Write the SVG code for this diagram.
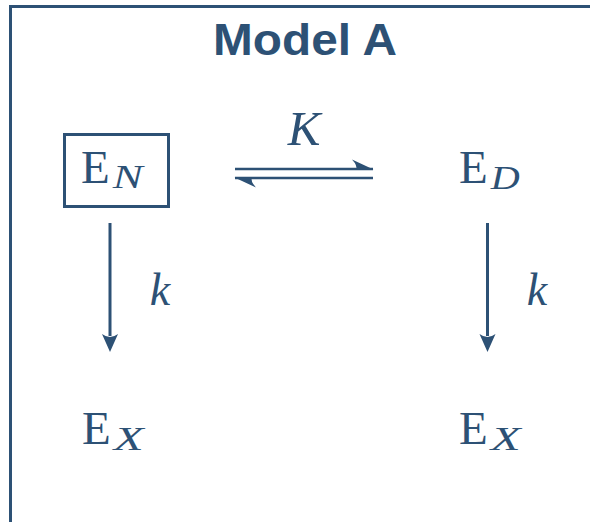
<svg xmlns="http://www.w3.org/2000/svg" width="590" height="522" viewBox="0 0 590 522">
<style>
.c{fill:#2d5175}
.ln{stroke:#2d5175;fill:none}
.serif{font-family:"Liberation Serif","DejaVu Serif",serif;fill:#2d5175}
.it{font-style:italic}
.big{font-size:47px}
.sub{font-size:34px}
.title{font-family:"Liberation Sans",Arial,sans-serif;font-weight:bold;font-size:45px;fill:#2d5175}
</style>
<rect width="590" height="522" fill="#fff"/>
<g id="frame">
<path d="M10.5,522 V6.5 H590" class="ln" stroke-width="3"/>
</g>
<g id="title">
<text x="305" y="55" text-anchor="middle" class="title" textLength="184" lengthAdjust="spacingAndGlyphs">Model A</text>
</g>
<g id="connectors">
<g id="equilibrium">
<path d="M235,169 H373" class="ln" stroke-width="2.6"/>
<path d="M373.5,169.5 L352,159.5 Q358,166 356,170 Z" class="c"/>
<path d="M235,178 H373" class="ln" stroke-width="2.6"/>
<path d="M234.5,177.5 L256,187.5 Q250,181 252,177 Z" class="c"/>
<text x="304" y="145" text-anchor="middle" class="serif it" font-size="49">K</text>
</g>
<g id="decay-left">
<path d="M110,223 V336" class="ln" stroke-width="3"/>
<path d="M110,352 L102,334 Q110,340 118,334 Z" class="c"/>
<text x="160" y="305" text-anchor="middle" class="serif it" font-size="46">k</text>
</g>
<g id="decay-right">
<path d="M487.5,223 V336" class="ln" stroke-width="3"/>
<path d="M487.5,352 L479.5,334 Q487.5,340 495.5,334 Z" class="c"/>
<text x="537" y="305" text-anchor="middle" class="serif it" font-size="46">k</text>
</g>
</g>
<g id="node-EN">
<rect x="64.5" y="134.5" width="104" height="72" class="ln" stroke-width="3"/>
<text x="81" y="183" class="serif big">E<tspan class="sub it" dy="5" dx="3" textLength="30" lengthAdjust="spacingAndGlyphs">N</tspan></text>
</g>
<g id="node-ED">
<text x="459" y="183" class="serif big">E<tspan class="sub it" dy="6" dx="3" textLength="29" lengthAdjust="spacingAndGlyphs">D</tspan></text>
</g>
<g id="node-EX-left">
<text x="82" y="444" class="serif big">E<tspan class="sub it" dy="6" dx="3" textLength="30" lengthAdjust="spacingAndGlyphs">X</tspan></text>
</g>
<g id="node-EX-right">
<text x="459" y="444" class="serif big">E<tspan class="sub it" dy="6" dx="3" textLength="30" lengthAdjust="spacingAndGlyphs">X</tspan></text>
</g>
</svg>
